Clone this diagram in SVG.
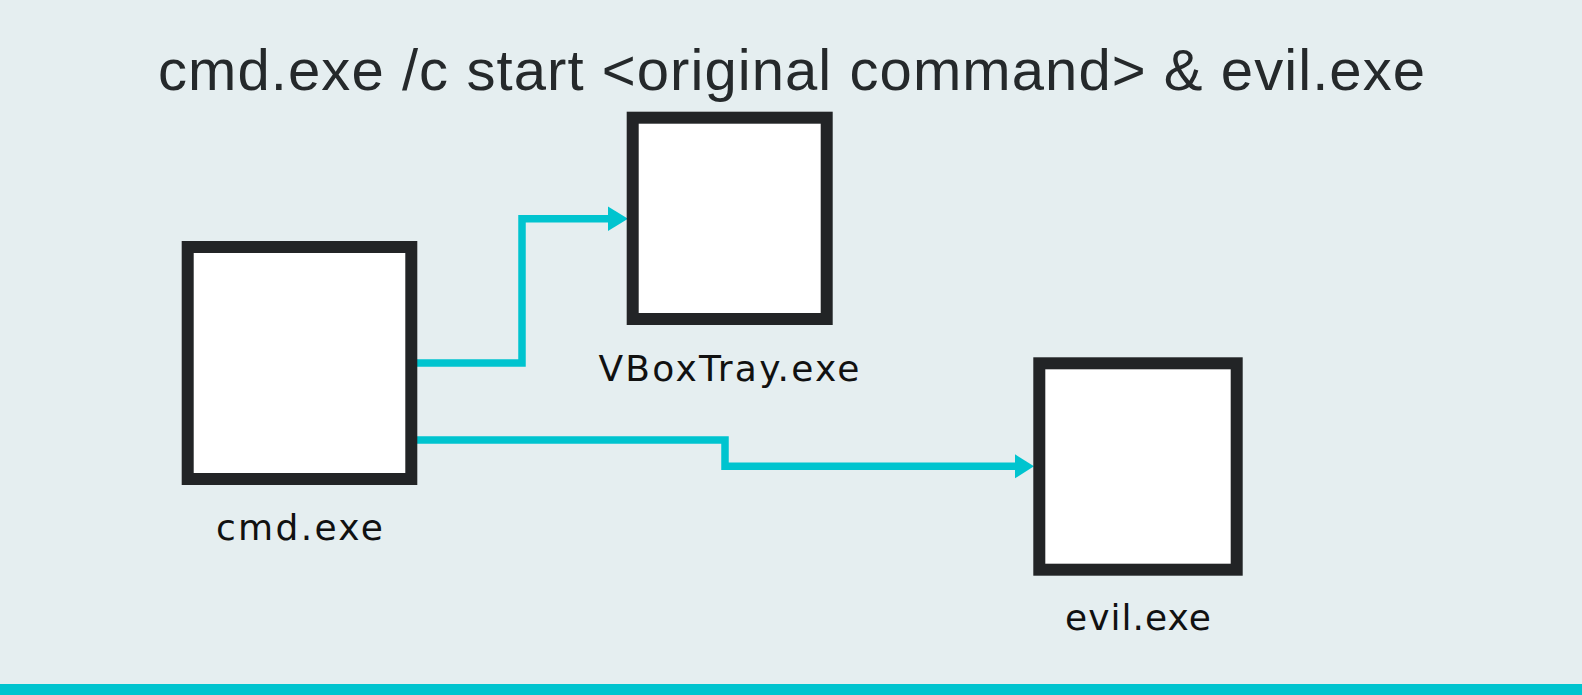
<svg xmlns="http://www.w3.org/2000/svg" width="1582" height="695" viewBox="0 0 1582 695">
<style>
.box{fill:#ffffff;stroke:#222426;stroke-width:12}
.lbl{font-family:"DejaVu Sans",Arial,sans-serif;font-size:36px;fill:#111111}
.title{font-family:"Liberation Sans",Arial,sans-serif;font-size:58px;fill:#25292b}
.wire{fill:none;stroke:#00c4cf;stroke-width:7.5}
.head{fill:#00c4cf}
</style>
<rect x="0" y="0" width="1582" height="695" fill="#e5eef0"/>
<text class="title" x="158" y="90" textLength="1267">cmd.exe /c start &lt;original command&gt; &amp; evil.exe</text>
<g id="connectors">
<path class="wire" d="M417,363 H522 V218.7 H610"/>
<polygon class="head" points="608,206.5 628,218.7 608,230.9"/>
<path class="wire" d="M417,440 H725 V466.3 H1017"/>
<polygon class="head" points="1015,454.3 1034,466.3 1015,478.3"/>
</g>
<g id="node-cmd">
<rect class="box" x="187.7" y="247" width="223.6" height="232"/>
<text class="lbl" x="216" y="540" textLength="167">cmd.exe</text>
</g>
<g id="node-vboxtray">
<rect class="box" x="632.7" y="117.7" width="194" height="201.3"/>
<text class="lbl" x="598.5" y="381" textLength="261">VBoxTray.exe</text>
</g>
<g id="node-evil">
<rect class="box" x="1039.3" y="363.3" width="197.4" height="206.4"/>
<text class="lbl" x="1065" y="629.5" textLength="146">evil.exe</text>
</g>
<rect x="0" y="684" width="1582" height="11" fill="#00c4cf"/>
</svg>
